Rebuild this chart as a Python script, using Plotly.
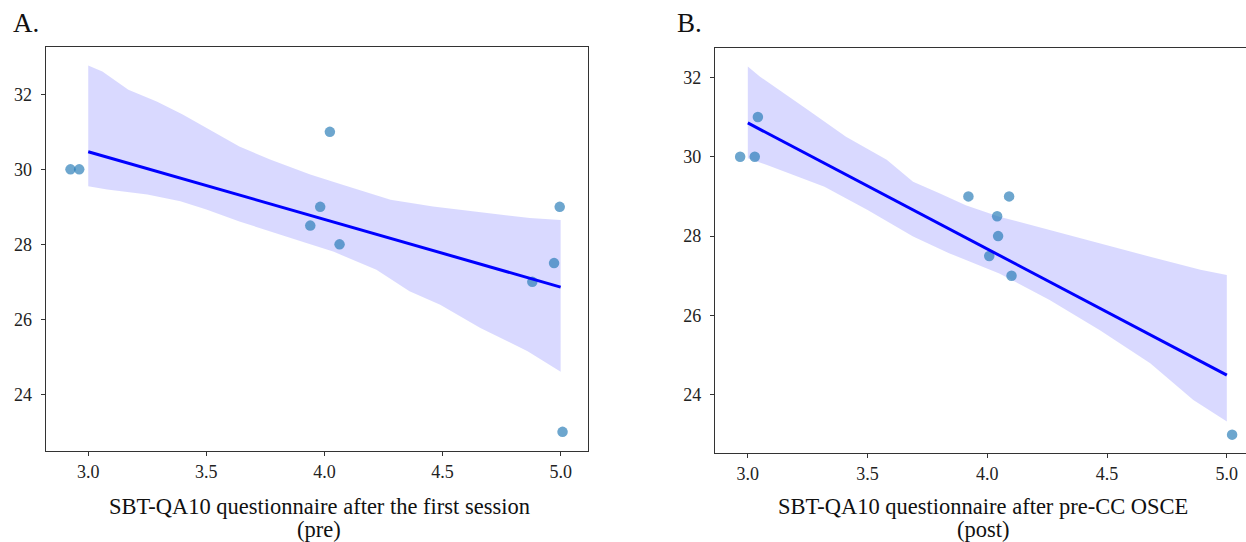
import plotly.graph_objects as go

# ---------------- data ----------------
# Panel A: scores after first session (pre) — jittered x as plotted
a_x = [2.925, 2.962, 4.023, 3.982, 3.940, 4.064, 4.880, 4.972, 4.996, 5.008]
a_y = [30, 30, 31, 29, 28.5, 28, 27, 27.5, 29, 23]
a_line_x = [3.0, 5.0]
a_line_y = [30.47, 26.86]
a_up_x = [3.0, 3.06, 3.17, 3.29, 3.40, 3.53, 3.64, 3.77, 3.94, 4.07, 4.28, 4.46, 4.69, 4.87, 5.0]
a_up_y = [32.77, 32.61, 32.12, 31.81, 31.46, 31.01, 30.61, 30.26, 29.86, 29.6, 29.19, 29.01, 28.83, 28.70, 28.65]
a_lo_x = [3.0, 3.08, 3.25, 3.39, 3.50, 3.64, 3.77, 3.90, 4.04, 4.22, 4.36, 4.49, 4.66, 4.86, 5.0]
a_lo_y = [29.55, 29.46, 29.33, 29.15, 28.93, 28.61, 28.35, 28.08, 27.8, 27.32, 26.75, 26.39, 25.77, 25.15, 24.6]

# Panel B: scores after pre-CC OSCE (post)
b_x = [2.968, 3.029, 3.042, 3.921, 4.091, 4.041, 4.045, 4.008, 4.101, 5.022]
b_y = [30, 30, 31, 29, 29, 28.5, 28, 27.5, 27, 23]
b_line_x = [3.0, 5.0]
b_line_y = [30.85, 24.5]
b_up_x = [3.0, 3.05, 3.25, 3.41, 3.58, 3.69, 3.80, 3.91, 4.05, 4.26, 4.47, 4.68, 4.89, 5.0]
b_up_y = [32.27, 32.02, 31.18, 30.50, 29.92, 29.37, 29.08, 28.78, 28.49, 28.15, 27.82, 27.48, 27.15, 27.02]
b_lo_x = [3.0, 3.08, 3.32, 3.50, 3.69, 3.84, 4.05, 4.26, 4.47, 4.68, 4.86, 5.0]
b_lo_y = [29.96, 29.79, 29.24, 28.66, 27.99, 27.57, 27.06, 26.39, 25.63, 24.80, 23.87, 23.33]

x_ticks = [3.0, 3.5, 4.0, 4.5, 5.0]
y_ticks = [24, 26, 28, 30, 32]

panel_letters = ["A.", "B."]
x_titles = ["SBT-QA10 questionnaire after the first session", "SBT-QA10 questionnaire after pre-CC OSCE"]
x_subtitles = ["(pre)", "(post)"]

# ---------------- styling ----------------
W, H = 1246, 542
FONT = "Liberation Serif, Times New Roman, serif"
POINT_COLOR = "rgba(31,119,180,0.65)"
BAND_COLOR = "rgba(0,0,255,0.15)"
LINE_COLOR = "#0000ff"
AXIS_COLOR = "#333333"

fig = go.Figure()

def add_panel(xs, ys, lx, ly, ux, uy, dx, dy, xa, ya):
    fig.add_trace(go.Scatter(
        x=list(ux) + list(dx)[::-1], y=list(uy) + list(dy)[::-1],
        fill="toself", fillcolor=BAND_COLOR, line=dict(width=0),
        mode="lines", hoverinfo="skip", showlegend=False, xaxis=xa, yaxis=ya))
    fig.add_trace(go.Scatter(
        x=xs, y=ys, mode="markers",
        marker=dict(size=10.5, color=POINT_COLOR, line=dict(width=0)),
        showlegend=False, xaxis=xa, yaxis=ya))
    fig.add_trace(go.Scatter(
        x=lx, y=ly, mode="lines", line=dict(color=LINE_COLOR, width=3),
        showlegend=False, xaxis=xa, yaxis=ya))

add_panel(a_x, a_y, a_line_x, a_line_y, a_up_x, a_up_y, a_lo_x, a_lo_y, "x", "y")
add_panel(b_x, b_y, b_line_x, b_line_y, b_up_x, b_up_y, b_lo_x, b_lo_y, "x2", "y2")

def px_x(p):
    return p / W

def px_y(p):
    return (H - p) / H

axis_common = dict(
    showgrid=False, zeroline=False, showline=True, linecolor=AXIS_COLOR, linewidth=1.3,
    ticks="outside", ticklen=4, tickwidth=1.2, tickcolor=AXIS_COLOR,
    tickfont=dict(family=FONT, size=18, color="#222222"), automargin=False,
)

fig.update_layout(
    width=W, height=H,
    margin=dict(l=0, r=0, t=0, b=0),
    paper_bgcolor="white", plot_bgcolor="white",
    font=dict(family=FONT),
    xaxis=dict(domain=[px_x(45.7), px_x(588.3)], range=[2.82, 5.117], anchor="y",
               tickvals=x_ticks, ticktext=[f"{v:.1f}" for v in x_ticks], mirror=True, **axis_common),
    yaxis=dict(domain=[px_y(451), px_y(46.7)], range=[22.49, 33.27], anchor="x",
               tickvals=y_ticks, mirror=True, ticklabelstandoff=5, **axis_common),
    xaxis2=dict(domain=[px_x(715), 1.0], range=[2.863, 5.08], anchor="y2",
                tickvals=x_ticks, ticktext=[f"{v:.1f}" for v in x_ticks], mirror=True, **axis_common),
    yaxis2=dict(domain=[px_y(453.3), px_y(48.3)], range=[22.53, 32.73], anchor="x2",
                tickvals=y_ticks, mirror=False, ticklabelstandoff=5, **axis_common),
)

annotations = []
letter_x = [11, 675]
title_cx = [319, 983]
for i in range(2):
    annotations.append(dict(text=panel_letters[i], x=px_x(letter_x[i]), y=px_y(23), xref="paper", yref="paper",
                            xanchor="left", yanchor="middle", showarrow=False,
                            font=dict(family=FONT, size=27, color="#111111")))
    annotations.append(dict(text=x_titles[i], x=px_x(title_cx[i]), y=px_y(506), xref="paper", yref="paper",
                            xanchor="center", yanchor="middle", showarrow=False,
                            font=dict(family=FONT, size=22.5, color="#111111")))
    annotations.append(dict(text=x_subtitles[i], x=px_x(title_cx[i]), y=px_y(529), xref="paper", yref="paper",
                            xanchor="center", yanchor="middle", showarrow=False,
                            font=dict(family=FONT, size=22.5, color="#111111")))
fig.update_layout(annotations=annotations)

fig.write_html(
    "out.html",
    config={"displayModeBar": False},
    post_script="document.body.style.margin='0';document.body.style.overflow='hidden';",
)
